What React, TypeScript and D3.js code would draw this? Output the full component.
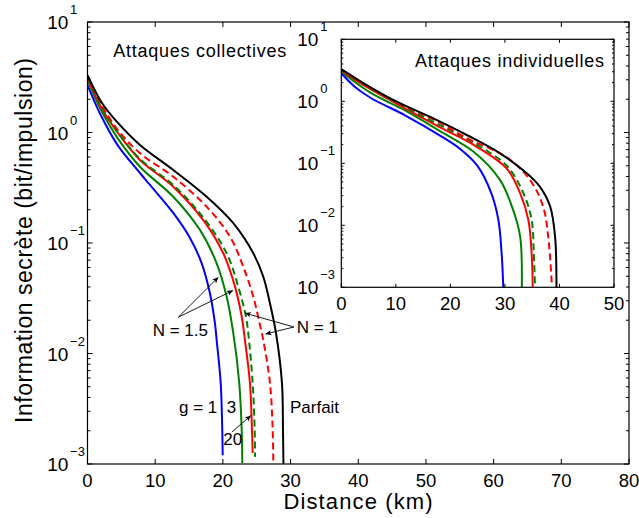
import React from 'react';
import * as d3 from 'd3';

type Pt = [number, number];

// ---- tick values ----
const mainXTicks = [0, 10, 20, 30, 40, 50, 60, 70, 80];
const insetXTicks = [0, 10, 20, 30, 40, 50];
const yTickExps = [-3, -2, -1, 0, 1];

// ---- Attaques collectives (main plot): [distance km, bit/impulsion] ----
const collG1N15: Pt[] = [[0, 2.69], [2.1, 1.38], [4.5, 0.76], [7.75, 0.43], [9.2, 0.337], [12.67, 0.187], [15.14, 0.111], [16.87, 0.0655], [18.09, 0.0351], [18.83, 0.0187], [19.08, 0.01324], [19.68, 0.0054], [19.91, 0.00203], [19.97, 0.0012]];
const collG3N15: Pt[] = [[0, 2.98], [2.1, 1.55], [4.5, 0.88], [7.75, 0.49], [12.67, 0.262], [16.62, 0.131], [19.08, 0.0655], [20.56, 0.0327], [21.54, 0.0153], [22.42, 0.0054], [22.78, 0.00203], [22.87, 0.00102]];
const collG20N15: Pt[] = [[0, 3.11], [2.1, 1.65], [4.5, 0.99], [7.75, 0.564], [12.67, 0.323], [17.1, 0.161], [20.06, 0.0807], [21.79, 0.0403], [22.78, 0.0216], [23.26, 0.01324], [24.0, 0.0054], [24.3, 0.00203], [24.4, 0.00126]];
const collG3N1: Pt[] = [[0, 3.11], [2.1, 1.67], [4.5, 1.0], [7.75, 0.575], [12.67, 0.335], [17.1, 0.17], [20.56, 0.0807], [22.27, 0.0403], [23.41, 0.0216], [23.75, 0.0153], [24.4, 0.0054], [24.7, 0.00203], [24.75, 0.00116]];
const collG20N1: Pt[] = [[0, 3.18], [2.14, 1.75], [4.5, 1.05], [7.75, 0.649], [12.67, 0.398], [17.61, 0.213], [21.05, 0.114], [23.01, 0.0611], [24.49, 0.0327], [25.41, 0.0189], [25.97, 0.01324], [26.96, 0.0054], [27.36, 0.00203], [27.45, 0.00102]];
const collPerfect: Pt[] = [[0, 3.31], [2.14, 1.85], [4.5, 1.22], [7.75, 0.771], [12.67, 0.458], [17.61, 0.262], [21.54, 0.151], [24.49, 0.0807], [25.97, 0.0495], [26.96, 0.0284], [27.85, 0.0153], [28.73, 0.0054], [28.88, 0.00203], [28.95, 0.001]];

// ---- Attaques individuelles (inset) ----
const indG1N15: Pt[] = [[0, 2.83], [2.46, 1.72], [5.5, 1.12], [11.6, 0.6], [18.1, 0.28], [21.8, 0.17], [25.0, 0.09], [27.5, 0.033], [28.8, 0.0122], [29.4, 0.0035], [29.7, 0.001]];
const indG3N15: Pt[] = [[0, 3.0], [5.5, 1.35], [11.6, 0.72], [18.1, 0.33], [24.2, 0.155], [29.1, 0.054], [31.5, 0.0177], [32.8, 0.0065], [33.1, 0.001]];
const indG20N15: Pt[] = [[0, 3.12], [4.66, 1.7], [10.16, 0.91], [18.1, 0.38], [24.2, 0.2], [30.3, 0.083], [32.8, 0.0328], [34.3, 0.0122], [34.9, 0.0035], [35.1, 0.001]];
const indG3N1: Pt[] = [[0, 3.15], [4.66, 1.74], [10.16, 0.94], [18.1, 0.41], [24.2, 0.215], [30.3, 0.092], [33.4, 0.0328], [34.9, 0.0122], [35.3, 0.0035], [35.5, 0.0011]];
const indG20N1: Pt[] = [[0, 3.2], [4.66, 1.78], [10.16, 0.96], [16.87, 0.51], [23.0, 0.255], [30.3, 0.125], [34.6, 0.054], [37.0, 0.02], [37.95, 0.0065], [38.6, 0.0011]];
const indPerfect: Pt[] = [[0, 3.32], [4.66, 1.83], [10.16, 0.985], [16.87, 0.53], [23.0, 0.286], [29.1, 0.145], [34.0, 0.069], [36.4, 0.042], [38.3, 0.02], [39.2, 0.0065], [39.45, 0.001]];

// ---- annotations (data coordinates of main plot) ----
const annTexts: { label: string; d: number; v: number }[] = [
  { label: 'N = 1.5', d: 9.63, v: 0.0144 },
  { label: 'N = 1', d: 30.9, v: 0.01533 },
  { label: 'g = 1', d: 13.52, v: 0.002893 },
  { label: '3', d: 20.56, v: 0.002893 },
  { label: '20', d: 20.06, v: 0.001486 },
  { label: 'Parfait', d: 29.91, v: 0.002893 },
];
const annArrows: { from: Pt; to: Pt }[] = [
  { from: [13.41, 0.0213], to: [19.33, 0.049] },
  { from: [13.41, 0.0213], to: [21.5, 0.0372] },
  { from: [30.5, 0.01738], to: [23.25, 0.0232] },
  { from: [30.5, 0.01738], to: [26.3, 0.015] },
  { from: [21.34, 0.001949], to: [24.15, 0.002748] },
];

const FONT = '"Liberation Sans", Arial, Helvetica, sans-serif';
const BLUE = '#0000ff';
const GREEN = '#008000';
const RED = '#ff0000';
const BLACK = '#000000';

type Series = { data: Pt[]; color: string; dash?: string };

const mainSeries: Series[] = [
  { data: collG1N15, color: BLUE },
  { data: collG3N15, color: GREEN },
  { data: collG20N15, color: RED },
  { data: collG3N1, color: GREEN, dash: '7,4' },
  { data: collG20N1, color: RED, dash: '7,4' },
  { data: collPerfect, color: BLACK },
];
const insetSeries: Series[] = [
  { data: indG1N15, color: BLUE },
  { data: indG3N15, color: GREEN },
  { data: indG20N15, color: RED },
  { data: indG3N1, color: GREEN, dash: '7,4' },
  { data: indG20N1, color: RED, dash: '7,4' },
  { data: indPerfect, color: BLACK },
];

function Frame(props: {
  x: d3.ScaleLinear<number, number>;
  y: d3.ScaleLogarithmic<number, number>;
  xTicks: number[];
  major: number;
  minor: number;
  expEnd: number;
}) {
  const { x, y, xTicks, major, minor, expEnd } = props;
  const [x0, x1] = x.range();
  const [yb, yt] = y.range();
  const minorVals: number[] = [];
  for (let e = -3; e < 1; e++) for (let m = 2; m < 10; m++) minorVals.push(m * Math.pow(10, e));
  const tl = { stroke: '#000', strokeWidth: 1 } as const;
  return (
    <g>
      <rect x={x0} y={yt} width={x1 - x0} height={yb - yt} fill="none" stroke="#000" strokeWidth={1.2} />
      {xTicks.map((t) => (
        <g key={'xt' + t}>
          <line x1={x(t)} x2={x(t)} y1={yb} y2={yb - major} {...tl} />
          <line x1={x(t)} x2={x(t)} y1={yt} y2={yt + major} {...tl} />
          <text x={x(t)} y={yb + 22.5} textAnchor="middle" fontSize={18.5} fontFamily={FONT}>
            {t}
          </text>
        </g>
      ))}
      {yTickExps.map((e) => {
        const v = Math.pow(10, e);
        const py = y(v);
        return (
          <g key={'yt' + e}>
            <line x1={x0} x2={x0 + major} y1={py} y2={py} {...tl} />
            <line x1={x1} x2={x1 - major} y1={py} y2={py} {...tl} />
            <text x={expEnd} y={py + 7} textAnchor="end" fontSize={19} fontFamily={FONT}>
              10
            </text>
            <text x={expEnd + 1.8} y={py - 8} fontSize={13} fontFamily={FONT}>
              {e < 0 ? '\u2212' + Math.abs(e) : String(e)}
            </text>
          </g>
        );
      })}
      {minorVals.map((v, i) => (
        <g key={'mt' + i}>
          <line x1={x0} x2={x0 + minor} y1={y(v)} y2={y(v)} {...tl} />
          <line x1={x1} x2={x1 - minor} y1={y(v)} y2={y(v)} {...tl} />
        </g>
      ))}
    </g>
  );
}

export default function App() {
  const W = 639;
  const H = 518;
  const xM = d3.scaleLinear().domain([0, 80]).range([87.5, 629]);
  const yM = d3.scaleLog().domain([1e-3, 10]).range([464, 22]);
  const xI = d3.scaleLinear().domain([0, 50]).range([341.3, 614]);
  const yI = d3.scaleLog().domain([1e-3, 10]).range([287.3, 39.3]);

  const lineM = d3
    .line<Pt>()
    .x((d) => xM(d[0]))
    .y((d) => yM(d[1]))
    .curve(d3.curveCatmullRom.alpha(0.5));
  const lineI = d3
    .line<Pt>()
    .x((d) => xI(d[0]))
    .y((d) => yI(d[1]))
    .curve(d3.curveCatmullRom.alpha(0.5));

  return (
    <svg width={W} height={H} viewBox={`0 0 ${W} ${H}`} style={{ position: 'absolute', left: 0, top: 0, background: '#fff' }}>
      <defs>
        <clipPath id="clipMain">
          <rect x={87.5} y={22} width={629 - 87.5} height={464 - 22} />
        </clipPath>
        <clipPath id="clipInset">
          <rect x={341.3} y={39.3} width={614 - 341.3} height={287.3 - 39.3} />
        </clipPath>
        <marker id="ah" viewBox="0 0 10 10" refX={10} refY={5} markerWidth={9} markerHeight={6} orient="auto" markerUnits="userSpaceOnUse">
          <path d="M0,0.5 L10,5 L0,9.5 L2.5,5 z" fill="#000" />
        </marker>
      </defs>
      <rect x={0} y={0} width={W} height={H} fill="#fff" />

      {/* main plot */}
      <g clipPath="url(#clipMain)">
        {mainSeries.map((s, i) => (
          <path key={i} d={lineM(s.data) || ''} fill="none" stroke={s.color} strokeWidth={2} strokeDasharray={s.dash} />
        ))}
      </g>
      <Frame x={xM} y={yM} xTicks={mainXTicks} major={5} minor={3} expEnd={68.3} />
      <text x={113.3} y={57} fontSize={18} fontFamily={FONT} textLength={173} lengthAdjust="spacing">
        Attaques collectives
      </text>

      {annArrows.map((a, i) => (
        <line key={'ar' + i} x1={xM(a.from[0])} y1={yM(a.from[1])} x2={xM(a.to[0])} y2={yM(a.to[1])} stroke="#000" strokeWidth={0.9} markerEnd="url(#ah)" />
      ))}
      {annTexts.map((t, i) => (
        <text key={'at' + i} x={xM(t.d)} y={yM(t.v)} fontSize={17} fontFamily={FONT}>
          {t.label}
        </text>
      ))}

      {/* inset */}
      <rect x={341.3} y={39.3} width={614 - 341.3} height={287.3 - 39.3} fill="#fff" />
      <g clipPath="url(#clipInset)">
        {insetSeries.map((s, i) => (
          <path key={i} d={lineI(s.data) || ''} fill="none" stroke={s.color} strokeWidth={2} strokeDasharray={s.dash} />
        ))}
      </g>
      <Frame x={xI} y={yI} xTicks={insetXTicks} major={3.5} minor={2} expEnd={318.4} />
      <text x={415} y={66.5} fontSize={18} fontFamily={FONT} textLength={189} lengthAdjust="spacing">
        Attaques individuelles
      </text>

      {/* axis labels */}
      <text x={358} y={508.5} textAnchor="middle" fontSize={22} fontFamily={FONT} textLength={149} lengthAdjust="spacing">
        Distance (km)
      </text>
      <text
        transform="translate(31.5,240.5) rotate(-90)"
        textAnchor="middle"
        fontSize={23}
        fontFamily={FONT}
        textLength={365}
        lengthAdjust="spacing"
      >
        Information secrète (bit/impulsion)
      </text>
    </svg>
  );
}
